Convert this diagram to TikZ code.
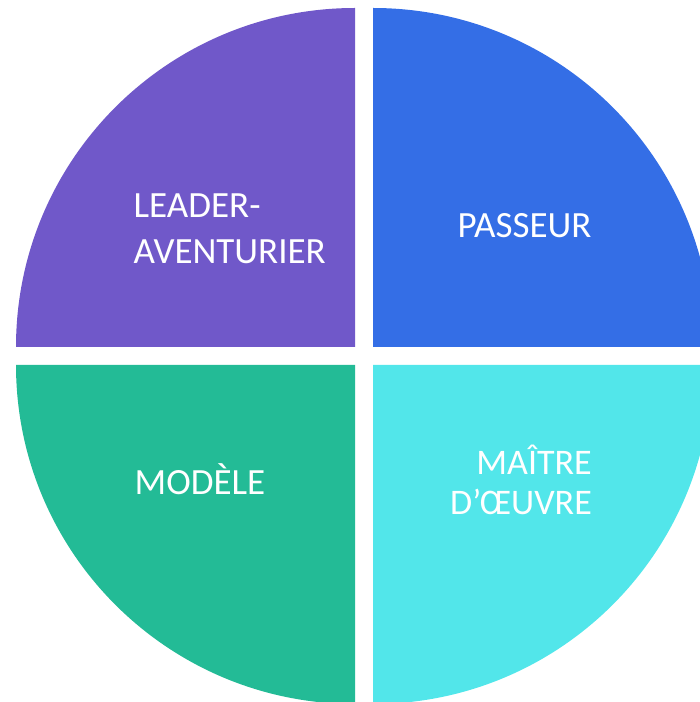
\documentclass[tikz,border=0pt]{standalone}
\usepackage{fontspec}
\setmainfont{Carlito}
\usepackage{tikz}
\definecolor{leadcol}{RGB}{112,88,201}
\definecolor{passcol}{RGB}{52,110,230}
\definecolor{modcol}{RGB}{35,187,150}
\definecolor{maitcol}{RGB}{82,230,234}

\begin{document}
\begin{tikzpicture}[x=1pt,y=1pt,
  lab/.style={text=white,inner sep=0pt,font=\fontsize{37}{46}\selectfont}]

   \useasboundingbox (0,0) rectangle (700,702);
   \clip (0,0) rectangle (700,702);

   % quarters of the disk
   \fill[leadcol] (355,355) -- ++(-339,0) arc[start angle=180,end angle=90,radius=339] -- cycle;
   \fill[passcol] (373,355) -- ++(0,339) arc[start angle=90,end angle=0,radius=339] -- cycle;
   \fill[modcol]  (355,337) -- ++(0,-339) arc[start angle=270,end angle=180,radius=339] -- cycle;
   \fill[maitcol] (373,337) -- ++(339,0) arc[start angle=0,end angle=-90,radius=339] -- cycle;

   % labels (base = last line)
   \node[lab,anchor=base west,align=left] (leader) at (133.5,438.7) {LEADER-\\AVENTURIER};
   \node[lab,anchor=base west] (passeur) at (457.5,464.3) {PASSEUR};
   \node[lab,anchor=base west] (modele) at (134.5,207) {MODÈLE};
   \node[lab,anchor=base east,align=right,font=\fontsize{36}{40}\selectfont] (maitre) at (592,187) {MAÎTRE\\D’ŒUVRE};
\end{tikzpicture}
\end{document}
